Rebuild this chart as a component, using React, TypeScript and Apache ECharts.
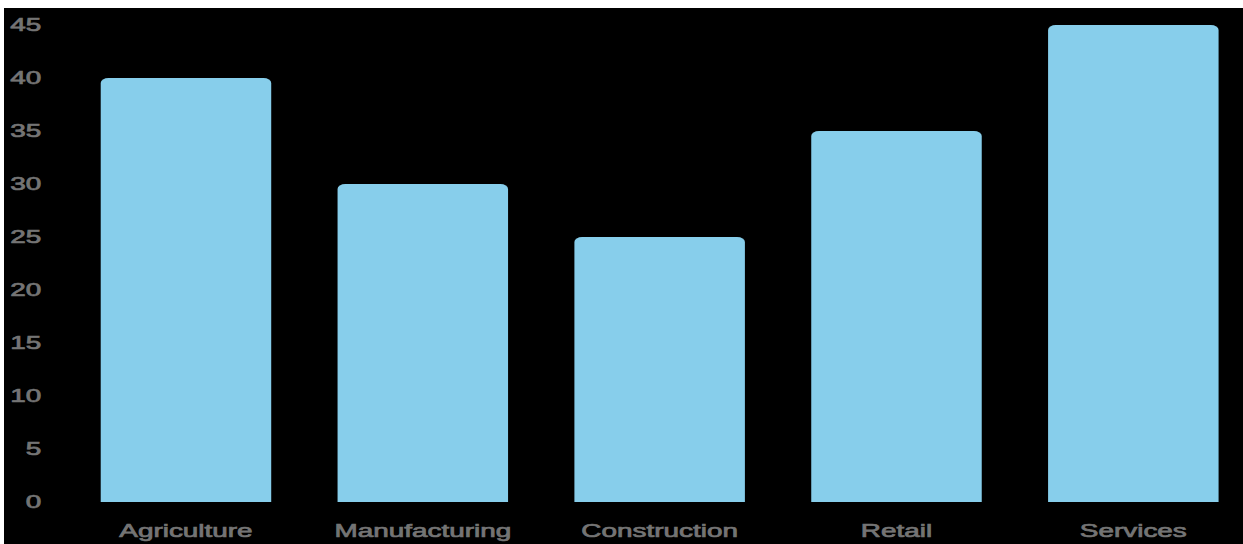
import React, { useEffect, useRef } from "react";
import * as echarts from "echarts";

const categories = ["Agriculture", "Manufacturing", "Construction", "Retail", "Services"];
const values = [40, 30, 25, 35, 45];
const yMin = 0;
const yMax = 45;
const yInterval = 5;

export default function App() {
  const ref = useRef<HTMLDivElement>(null);
  useEffect(() => {
    if (!ref.current) return;
    const chart = echarts.init(ref.current, null, { renderer: "svg" });
    const labelStyle = {
      color: "#747474",
      fontSize: 18,
      fontFamily: "Liberation Sans, Arial, sans-serif",
      textBorderColor: "#747474",
      textBorderWidth: 0.7,
    };
    chart.setOption({
      animation: false,
      backgroundColor: "#000000",
      grid: { left: 41, top: 17, width: 764, bottom: 42, containLabel: false },
      xAxis: {
        type: "category",
        data: categories,
        axisLine: { show: false },
        axisTick: { show: false },
        axisLabel: { ...labelStyle, margin: 20 },
      },
      yAxis: {
        type: "value",
        min: yMin,
        max: yMax,
        interval: yInterval,
        axisLine: { show: false },
        axisTick: { show: false },
        splitLine: { show: false },
        axisLabel: { ...labelStyle, margin: 17 },
      },
      series: [
        {
          type: "bar",
          data: values,
          barWidth: 110,
          itemStyle: { color: "#87CEEB", borderRadius: [5, 5, 0, 0] },
        },
      ],
    });
    return () => chart.dispose();
  }, []);
  return (
    <div
      style={{
        position: "absolute",
        left: 4,
        top: 8,
        width: 1239,
        height: 536,
        overflow: "hidden",
        background: "#000",
      }}
    >
      <div
        ref={ref}
        style={{
          width: 810,
          height: 536,
          transform: "scaleX(1.55)",
          transformOrigin: "0 0",
        }}
      />
    </div>
  );
}
